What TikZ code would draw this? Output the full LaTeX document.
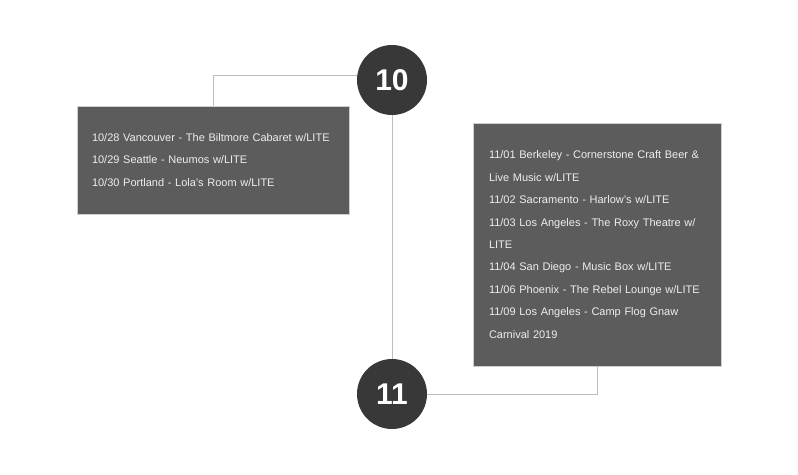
\documentclass[tikz,border=0pt]{standalone}
\usepackage{fontspec}
\setmainfont{Liberation Sans}
\usepackage{tikz}
\usetikzlibrary{positioning,calc}
\definecolor{markfill}{HTML}{383838}
\definecolor{boxfill}{HTML}{5C5C5C}
\definecolor{boxline}{HTML}{CFCFCF}
\definecolor{linkline}{HTML}{BDBDBD}
\definecolor{gigtext}{HTML}{EEEEEE}

\begin{document}
\begin{tikzpicture}[x=1pt, y=-1pt, line width=0.9pt,
	month/.style={circle, fill=markfill, minimum size=70pt, inner sep=0pt, text=white,
		font=\fontsize{30}{30}\selectfont\bfseries},
	gigs/.style={rectangle, fill=boxfill, draw=boxline, line width=0.6pt, align=left,
		text=gigtext, font=\fontsize{11}{22.4}\selectfont}]
	\useasboundingbox (0,0) rectangle (798,474);
	\node[month] (10) at (392,80)                                                	{10};
	\node[month] (11) at (392,394)                                               	{11};
	\node[gigs, text width=242pt, inner xsep=15pt, minimum height=108pt] (oct) at (213,160)
		{10/28 Vancouver - The Biltmore Cabaret w/LITE\\
		10/29 Seattle - Neumos w/LITE\\
		10/30 Portland - Lola's Room w/LITE};
	\node[gigs, text width=216pt, inner xsep=16pt, minimum height=243pt] (nov) at (597,244.5)
		{11/01 Berkeley - Cornerstone Craft Beer \&\\
		Live Music w/LITE\\
		11/02 Sacramento - Harlow's w/LITE\\
		11/03 Los Angeles - The Roxy Theatre w/\\
		LITE\\
		11/04 San Diego - Music Box w/LITE\\
		11/06 Phoenix - The Rebel Lounge w/LITE\\
		11/09 Los Angeles - Camp Flog Gnaw\\
		Carnival 2019};

	\path[draw=linkline]
	(10) edge   (11)
	(oct.north) edge[to path={|- (\tikztotarget)}]   (10.172)
	(nov.south) edge[to path={|- (\tikztotarget)}]   (11.east);

\end{tikzpicture}
\end{document}
